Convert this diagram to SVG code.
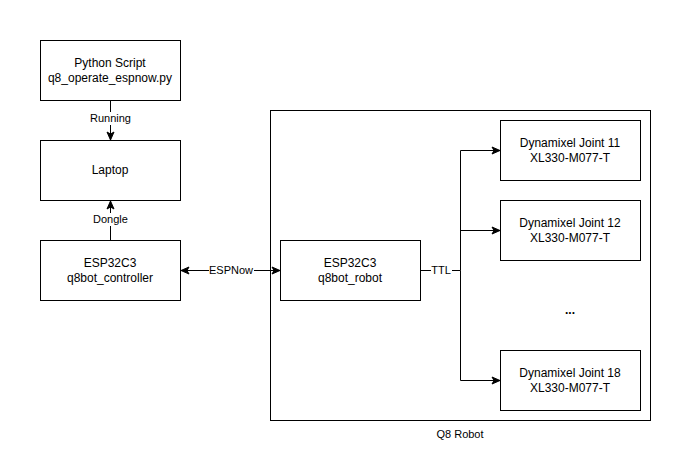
<svg xmlns="http://www.w3.org/2000/svg" width="690" height="470" viewBox="0 0 690 470">
<style>
.box{fill:#fff;stroke:#000;stroke-width:1}
.t{font-family:"Liberation Sans",Arial,sans-serif;font-size:12px;fill:#000;text-anchor:middle}
.lbl{font-family:"Liberation Sans",Arial,sans-serif;font-size:11px;fill:#000;text-anchor:middle}
.e{fill:none;stroke:#000;stroke-width:1}
</style>
<defs>
<marker id="arr" viewBox="0 0 10 10" refX="9" refY="5" markerWidth="10" markerHeight="10" markerUnits="userSpaceOnUse" orient="auto-start-reverse">
<path d="M1,1.5 L9,5 L1,8.5 L3,5 Z" fill="#000" stroke="#000" stroke-width="1"/>
</marker>
</defs>
<rect width="690" height="470" fill="#fff"/>
<g id="robot">
<rect class="box" x="270.5" y="110.5" width="380" height="310"/>
<text class="lbl" x="460" y="438">Q8 Robot</text>
</g>
<g id="python">
<rect class="box" x="40.5" y="40.5" width="140" height="60"/>
<text class="t" x="110" y="67">Python Script</text>
<text class="t" x="110" y="82">q8_operate_espnow.py</text>
</g>
<g id="laptop">
<rect class="box" x="40.5" y="140.5" width="140" height="60"/>
<text class="t" x="110" y="174">Laptop</text>
</g>
<g id="controller">
<rect class="box" x="40.5" y="240.5" width="140" height="60"/>
<text class="t" x="110" y="267">ESP32C3</text>
<text class="t" x="110" y="282">q8bot_controller</text>
</g>
<g id="esprobot">
<rect class="box" x="280.5" y="240.5" width="140" height="60"/>
<text class="t" x="350" y="267">ESP32C3</text>
<text class="t" x="350" y="282">q8bot_robot</text>
</g>
<g id="joint11">
<rect class="box" x="500.5" y="120.5" width="140" height="60"/>
<text class="t" x="570" y="147">Dynamixel Joint 11</text>
<text class="t" x="570" y="162">XL330-M077-T</text>
</g>
<g id="joint12">
<rect class="box" x="500.5" y="200.5" width="140" height="60"/>
<text class="t" x="570" y="227">Dynamixel Joint 12</text>
<text class="t" x="570" y="242">XL330-M077-T</text>
</g>
<g id="dots">
<text class="t" x="570" y="314" font-weight="bold">...</text>
</g>
<g id="joint18">
<rect class="box" x="500.5" y="350.5" width="140" height="60"/>
<text class="t" x="570" y="377">Dynamixel Joint 18</text>
<text class="t" x="570" y="392">XL330-M077-T</text>
</g>
<g id="connectors">
<path class="e" d="M110.5,101 L110.5,140" marker-end="url(#arr)"/>
<rect x="88" y="112" width="45" height="13" fill="#fff"/>
<text class="lbl" x="110.5" y="122">Running</text>
<path class="e" d="M110.5,240 L110.5,201" marker-end="url(#arr)"/>
<rect x="90" y="213" width="41" height="13" fill="#fff"/>
<text class="lbl" x="110.5" y="223">Dongle</text>
<path class="e" d="M181,270.5 L280,270.5" marker-start="url(#arr)" marker-end="url(#arr)"/>
<rect x="209" y="264" width="45" height="13" fill="#fff"/>
<text class="lbl" x="231" y="274">ESPNow</text>
<path class="e" d="M421,270.5 L460.5,270.5"/>
<path class="e" d="M460.5,270.5 L460.5,150.5 L500,150.5" marker-end="url(#arr)"/>
<path class="e" d="M460.5,230.5 L500,230.5" marker-end="url(#arr)"/>
<path class="e" d="M460.5,270.5 L460.5,380.5 L500,380.5" marker-end="url(#arr)"/>
<rect x="431" y="264" width="21" height="13" fill="#fff"/>
<text class="lbl" x="441" y="274">TTL</text>
</g>
</svg>
